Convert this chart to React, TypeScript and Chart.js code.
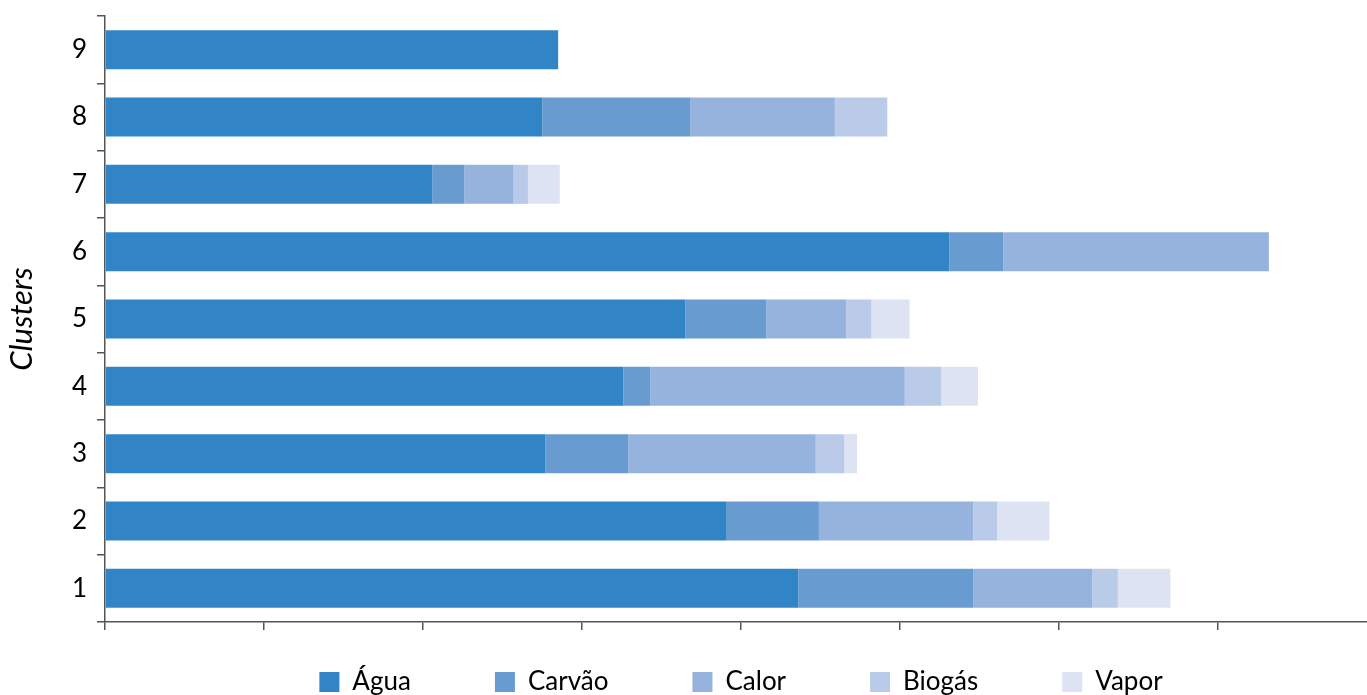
import React, { useEffect, useRef } from "react";
import { Chart, registerables } from "chart.js";

Chart.register(...registerables);

const clusters = ["1", "2", "3", "4", "5", "6", "7", "8", "9"];
const agua = [43.6, 39.1, 27.7, 32.6, 36.5, 53.1, 20.6, 27.5, 28.5];
const carvao = [11.0, 5.8, 5.2, 1.7, 5.1, 3.4, 2.0, 9.3, 0];
const calor = [7.5, 9.7, 11.8, 16.0, 5.0, 16.7, 3.1, 9.1, 0];
const biogas = [1.6, 1.5, 1.8, 2.3, 1.6, 0, 0.9, 3.3, 0];
const vapor = [3.3, 3.3, 0.8, 2.3, 2.4, 0, 2.0, 0, 0];

const seriesNames = ["Água", "Carvão", "Calor", "Biogás", "Vapor"];
const seriesColors = ["#3184C5", "#689BD0", "#95B3DD", "#BACBE9", "#DDE3F3"];

const LEGEND_PAD = 84;
const LEGEND_ROW_Y = 669;
const LEGEND_SHIFT = 5;

const legendPlacer = {
  id: "legendPlacer",
  beforeLayout(chart: any) {
    const lg = chart.legend;
    if (lg && !lg.__patched) {
      const orig = lg.fit;
      lg.fit = function () {
        orig.call(this);
        this.height = 46;
      };
      lg.__patched = true;
    }
  },
  afterLayout(chart: any) {
    const lg = chart.legend;
    if (!lg) return;
    lg.top = LEGEND_ROW_Y - LEGEND_PAD;
    lg.bottom = chart.height + 40;
    lg.left += LEGEND_SHIFT;
    lg.right += LEGEND_SHIFT;
  },
};

export default function App() {
  const ref = useRef<HTMLCanvasElement>(null);
  useEffect(() => {
    if (!ref.current) return;
    const values = [agua, carvao, calor, biogas, vapor];
    const font = "Lato, 'Open Sans', sans-serif";
    const chart = new Chart(ref.current, {
      type: "bar",
      data: {
        labels: clusters,
        datasets: values.map((v, i) => ({
          label: seriesNames[i],
          data: v,
          backgroundColor: seriesColors[i],
          borderWidth: 0,
          categoryPercentage: 1,
          barPercentage: 0.58,
        })),
      },
      plugins: [legendPlacer],
      options: {
        indexAxis: "y",
        animation: false,
        responsive: false,
        maintainAspectRatio: false,
        layout: { padding: { left: 0, right: 0, top: 16, bottom: 0 } },
        plugins: {
          tooltip: { enabled: false },
          legend: {
            position: "bottom",
            fullSize: false,
            labels: {
              boxWidth: 20,
              boxHeight: 20,
              padding: LEGEND_PAD,
              color: "#000",
              font: { family: font, size: 26 },
            },
          },
        },
        scales: {
          x: {
            stacked: true,
            min: 0,
            max: 79.37,
            afterFit: (s: any) => {
              s.height = 27;
              s.paddingLeft = 0;
              s.paddingRight = 0;
            },
            ticks: { stepSize: 10, includeBounds: false, display: false },
            grid: { drawOnChartArea: false, tickLength: 8, color: "#555", lineWidth: 1.5 },
            border: { color: "#555", width: 1.5 },
          },
          y: {
            stacked: true,
            reverse: true,
            afterFit: (s: any) => {
              s.width = 105;
              s.paddingTop = 0;
              s.paddingBottom = 0;
            },
            ticks: { color: "#000", padding: 10, font: { family: font, size: 26 } },
            grid: { drawOnChartArea: false, tickLength: 8, color: "#555", lineWidth: 1.5, offset: true },
            border: { color: "#555", width: 1.5 },
            title: {
              display: true,
              text: "Clusters",
              color: "#000",
              padding: { top: 3, bottom: 0 },
              font: { family: font, size: 31, style: "italic" },
            },
          },
        },
      },
    });
    return () => chart.destroy();
  }, []);
  return (
    <div style={{ position: "fixed", left: 0, top: 0, width: 1367, height: 695, background: "#fff" }}>
      <canvas ref={ref} width={1367} height={695} style={{ width: 1367, height: 695 }} />
    </div>
  );
}
